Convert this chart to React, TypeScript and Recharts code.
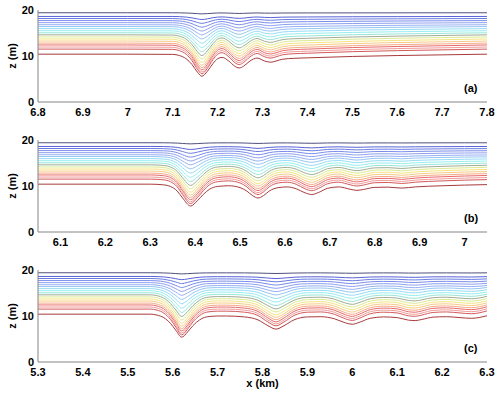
import React from 'react';
import { LineChart, Line, XAxis, YAxis } from 'recharts';

// isopycnal rest depths (m), top to bottom
const LEVELS = [19.4, 18.6, 18.15, 17.7, 17.25, 16.8, 16.4, 15.95, 15.5, 15.05, 14.6, 14.15, 13.7, 13.25, 12.8, 12.4, 11.95, 11.5, 10.4];
// displacement at the leading trough for each level (m)
const AMPS = [0.25, 0.7, 1.1, 1.5, 1.9, 2.3, 2.8, 3.3, 3.8, 4.3, 4.7, 5.0, 5.3, 5.45, 5.55, 5.65, 5.65, 5.6, 5.0];
const COLORS = [
  '#50507e', '#5862d6', '#6a7ce2', '#7a8cea', '#8ea0f0', '#96b0f4', '#96c6f4', '#96dcf6', '#96eef0', '#96e6d8',
  '#a0ac94', '#dcea92', '#f6e480', '#f8ca84', '#f6aa86', '#e86a6a', '#f29a9a', '#d45a5a', '#a83a3a',
];

// panel (a)
const XA = [6.8, 7.0, 7.1, 7.115, 7.13, 7.143, 7.155, 7.165, 7.177, 7.19, 7.2, 7.21, 7.225, 7.238, 7.248, 7.258, 7.272, 7.288, 7.305, 7.318, 7.33, 7.345, 7.37, 7.4, 7.5, 7.6, 7.7, 7.8];
const PA = [0, 0, 0.01, 0.06, 0.2, 0.45, 0.78, 0.96, 0.75, 0.4, 0.2, 0.14, 0.3, 0.52, 0.6, 0.52, 0.3, 0.17, 0.3, 0.35, 0.3, 0.22, 0.18, 0.16, 0.1, 0.06, 0.03, 0];
const TICKS_A = [6.8, 6.9, 7, 7.1, 7.2, 7.3, 7.4, 7.5, 7.6, 7.7, 7.8];

// panel (b)
const XB = [6.05, 6.3, 6.33, 6.345, 6.36, 6.372, 6.39, 6.405, 6.418, 6.432, 6.45, 6.475, 6.5, 6.515, 6.528, 6.54, 6.552, 6.565, 6.585, 6.605, 6.625, 6.645, 6.66, 6.675, 6.695, 6.72, 6.745, 6.76, 6.775, 6.8, 6.83, 6.86, 6.89, 6.95, 7.0, 7.05];
const PB = [0, 0, 0.03, 0.1, 0.3, 0.6, 0.95, 0.72, 0.45, 0.22, 0.1, 0.07, 0.15, 0.3, 0.5, 0.6, 0.5, 0.3, 0.15, 0.12, 0.2, 0.38, 0.45, 0.36, 0.18, 0.12, 0.22, 0.27, 0.23, 0.14, 0.13, 0.17, 0.12, 0.07, 0.04, 0.02];
const TICKS_B = [6.1, 6.2, 6.3, 6.4, 6.5, 6.6, 6.7, 6.8, 6.9, 7];

// panel (c)
const XC = [5.3, 5.55, 5.565, 5.58, 5.595, 5.607, 5.62, 5.633, 5.645, 5.66, 5.675, 5.7, 5.72, 5.76, 5.79, 5.812, 5.83, 5.848, 5.87, 5.9, 5.93, 5.96, 5.985, 6.0, 6.015, 6.04, 6.07, 6.1, 6.125, 6.14, 6.155, 6.18, 6.21, 6.24, 6.265, 6.3];
const PC = [0, 0, 0.04, 0.15, 0.4, 0.7, 1.0, 0.78, 0.5, 0.25, 0.12, 0.08, 0.08, 0.12, 0.25, 0.5, 0.65, 0.5, 0.25, 0.12, 0.11, 0.2, 0.38, 0.44, 0.36, 0.18, 0.12, 0.15, 0.26, 0.28, 0.23, 0.13, 0.11, 0.15, 0.18, 0.07];
const TICKS_C = [5.3, 5.4, 5.5, 5.6, 5.7, 5.8, 5.9, 6, 6.1, 6.2, 6.3];

const Y_TICKS = [0, 10, 20];

function buildRows(xs: number[], prof: number[]) {
  return xs.map((x, i) => {
    const row: Record<string, number> = { x };
    LEVELS.forEach((z, k) => {
      row['l' + k] = z - AMPS[k] * prof[i];
    });
    return row;
  });
}

const font = { fontFamily: '"Liberation Sans", Arial, sans-serif', fontWeight: 'bold' as const, fontSize: 11, fill: '#000' };
const frame = { stroke: '#858585' };
const tickMark = { stroke: '#333' };

interface PanelProps {
  top: number;
  data: Record<string, number>[];
  domain: [number, number];
  ticks: number[];
  letter: string;
}

function Panel({ top, data, domain, ticks, letter }: PanelProps) {
  return (
    <div style={{ position: 'absolute', left: 0, top, width: 500, height: 125 }}>
      <LineChart width={500} height={125} data={data} margin={{ top: 10, right: 13, bottom: 0, left: 8 }}>
        <XAxis
          dataKey="x"
          type="number"
          domain={domain}
          ticks={ticks}
          allowDataOverflow
          interval={0}
          height={23}
          tick={font}
          tickLine={false}
          tickSize={3}
          tickMargin={3}
          axisLine={frame}
        />
        <XAxis xAxisId="bin" type="number" domain={domain} ticks={ticks} allowDataOverflow interval={0} mirror height={0} tick={false} tickSize={4} tickLine={tickMark} axisLine={frame} />
        <XAxis xAxisId="top" orientation="top" type="number" domain={domain} ticks={ticks} allowDataOverflow interval={0} mirror height={0} tick={false} tickSize={4} tickLine={tickMark} axisLine={frame} />
        <YAxis
          type="number"
          domain={[0, 20]}
          ticks={Y_TICKS}
          allowDataOverflow
          width={30}
          tick={font}
          tickLine={false}
          tickSize={3}
          tickMargin={1}
          axisLine={frame}
          label={{ value: 'z (m)', angle: -90, position: 'insideLeft', offset: 4, style: { ...font, textAnchor: 'middle' } }}
        />
        <YAxis yAxisId="lin" type="number" domain={[0, 20]} ticks={Y_TICKS} allowDataOverflow mirror width={0} tick={false} tickSize={4} tickLine={tickMark} axisLine={frame} />
        <YAxis yAxisId="r" orientation="right" type="number" domain={[0, 20]} ticks={Y_TICKS} allowDataOverflow mirror width={0} tick={false} tickSize={4} tickLine={tickMark} axisLine={frame} />
        {LEVELS.map((_, k) => (
          <Line
            key={k}
            type="monotone"
            dataKey={'l' + k}
            stroke={COLORS[k]}
            strokeWidth={1}
            dot={false}
            isAnimationActive={false}
          />
        ))}
      </LineChart>
      <div style={{ position: 'absolute', left: 464, top: 83, fontFamily: font.fontFamily, fontWeight: 'bold', fontSize: 11, lineHeight: '11px' }}>
        {letter}
      </div>
    </div>
  );
}

export default function App() {
  return (
    <div style={{ position: 'absolute', left: 0, top: 0, width: 500, height: 398, background: '#fff' }}>
      <Panel top={0} data={buildRows(XA, PA)} domain={[6.8, 7.8]} ticks={TICKS_A} letter="(a)" />
      <Panel top={130} data={buildRows(XB, PB)} domain={[6.05, 7.05]} ticks={TICKS_B} letter="(b)" />
      <Panel top={260} data={buildRows(XC, PC)} domain={[5.3, 6.3]} ticks={TICKS_C} letter="(c)" />
      <div
        style={{
          position: 'absolute',
          left: 0,
          width: 525,
          top: 378,
          textAlign: 'center',
          fontFamily: font.fontFamily,
          fontWeight: 'bold',
          fontSize: 11,
          lineHeight: '11px',
        }}
      >
        x (km)
      </div>
    </div>
  );
}
